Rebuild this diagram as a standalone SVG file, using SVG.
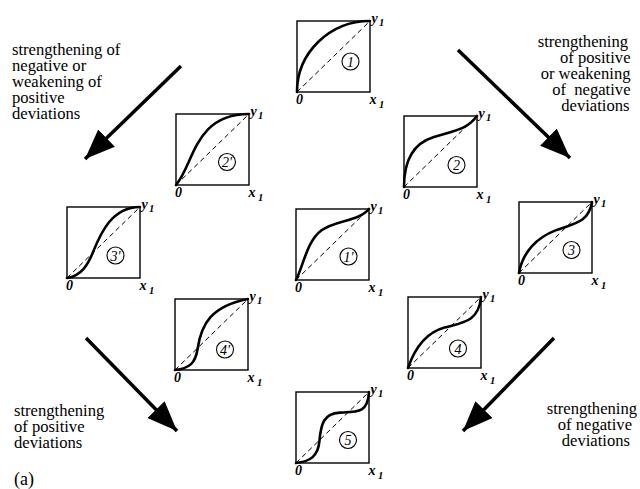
<svg xmlns="http://www.w3.org/2000/svg" width="640" height="489" viewBox="0 0 640 489">
<style>
.box{fill:none;stroke:#000;stroke-width:1.4}
.diag{fill:none;stroke:#000;stroke-width:1;stroke-dasharray:5,3.5}
.crv{fill:none;stroke:#000;stroke-width:2.6;stroke-linecap:round}
.cir{fill:none;stroke:#000;stroke-width:1.1}
.num{font-family:"Liberation Serif",serif;font-style:italic;font-size:14px;text-anchor:middle}
.lab{font-family:"Liberation Serif",serif;font-style:italic;font-weight:bold;font-size:14px}
.sub{font-size:10.5px}
.txt{font-family:"Liberation Serif",serif;font-size:16.6px}
.end{text-anchor:end}
.arr{stroke:#000;stroke-width:3.5;fill:none}
</style>
<defs>
<g id="frame">
<rect class="box" x="0" y="0" width="73" height="71"/>
<line class="diag" x1="0" y1="71" x2="73" y2="0"/>
<text class="lab" x="74.5" y="1.5">y<tspan class="sub" x="82" y="4.5">1</tspan></text>
<text class="lab" x="-1" y="83">0</text>
<text class="lab" x="72.5" y="83">x<tspan class="sub" x="82" y="86.5">1</tspan></text>
</g>
<marker id="ah" markerUnits="userSpaceOnUse" markerWidth="32" markerHeight="26" refX="30" refY="12" orient="auto" viewBox="0 0 32 24">
<path d="M0,0 L30,12 L0,24 Z" fill="#000"/>
</marker>
</defs>

<g id="connectors">
<line class="arr" x1="181" y1="66" x2="85" y2="159" marker-end="url(#ah)"/>
<line class="arr" x1="458" y1="50" x2="570" y2="158" marker-end="url(#ah)"/>
<line class="arr" x1="86" y1="338" x2="177" y2="431" marker-end="url(#ah)"/>
<line class="arr" x1="554" y1="338" x2="463" y2="431" marker-end="url(#ah)"/>
</g>

<g id="n1" transform="translate(297,21)">
<use href="#frame"/>
<path class="crv" d="M0,71 A73,71 0 0 1 73,0"/>
<circle class="cir" cx="53.5" cy="40.5" r="8.5"/><text class="num" x="53.5" y="45.5">1</text>
</g>
<g id="n2p" transform="translate(176,114)">
<use href="#frame"/>
<path class="crv" d="M0,71 C18.25,49.7 18.25,0 73,0"/>
<circle class="cir" cx="51" cy="48" r="8.5"/><text class="num" x="51" y="53">2'</text>
</g>
<g id="n2" transform="translate(404,116)">
<use href="#frame"/>
<path class="crv" d="M0,71 C0,42.6 10.95,27 29.2,21.3 C51.1,14.5 62.05,14.2 73,0"/>
<circle class="cir" cx="52.5" cy="49" r="8.5"/><text class="num" x="52.5" y="54">2</text>
</g>
<g id="n3p" transform="translate(67,207)">
<use href="#frame"/>
<path class="crv" d="M0,71 C14.6,68.9 21.2,56.8 25.55,46.15 C32.85,28.4 43.8,0 73,0"/>
<circle class="cir" cx="48.5" cy="48.5" r="8.5"/><text class="num" x="48.5" y="53.5">3'</text>
</g>
<g id="n1p" transform="translate(296,209)">
<use href="#frame"/>
<path class="crv" d="M0,71 C7.3,56.8 10.95,31.95 25.55,21.3 C40.15,10.65 62.05,12.8 73,0"/>
<circle class="cir" cx="52.5" cy="47.5" r="8.5"/><text class="num" x="52.5" y="52.5">1'</text>
</g>
<g id="n3" transform="translate(519,202)">
<use href="#frame"/>
<path class="crv" d="M0,71 C3.65,49.7 18.25,35.5 36.5,28.4 C54.75,21.3 69.35,21.3 73,0"/>
<circle class="cir" cx="52.5" cy="48" r="8.5"/><text class="num" x="52.5" y="53">3</text>
</g>
<g id="n4p" transform="translate(175,299)">
<use href="#frame"/>
<path class="crv" d="M0,71 C14.6,69.6 20.44,63.9 22.63,49.7 C26.28,24.85 36.5,7.1 73,0"/>
<circle class="cir" cx="50" cy="50.5" r="8.5"/><text class="num" x="50" y="55.5">4'</text>
</g>
<g id="n4" transform="translate(408,297)">
<use href="#frame"/>
<path class="crv" d="M0,71 C7.3,49.7 18.25,35.5 36.5,30.53 C54.75,25.56 70.81,24.85 73,0"/>
<circle class="cir" cx="50" cy="51.5" r="8.5"/><text class="num" x="50" y="56.5">4</text>
</g>
<g id="n5" transform="translate(296,392)">
<use href="#frame"/>
<path class="crv" d="M0,71 C14.6,69.58 21.9,63.9 23.36,49.7 C24.82,31.95 27.74,21.3 43.8,20.59 C62.05,19.88 71.54,21.3 73,0"/>
<circle class="cir" cx="52" cy="48" r="8.5"/><text class="num" x="52" y="53">5</text>
</g>

<g id="labels">
<text class="txt" x="12" y="55">strengthening of</text>
<text class="txt" x="12" y="71">negative or</text>
<text class="txt" x="12" y="87.3">weakening of</text>
<text class="txt" x="12" y="103.3">positive</text>
<text class="txt" x="12" y="119.3">deviations</text>
<text class="txt end" x="628" y="47.3">strengthening</text>
<text class="txt end" x="630.5" y="63.3">of positive</text>
<text class="txt end" x="630.5" y="79.3">or weakening</text>
<text class="txt end" x="630.5" y="95.3" xml:space="preserve">of  negative</text>
<text class="txt end" x="629.5" y="111.3">deviations</text>
<text class="txt" x="14" y="415.7">strengthening</text>
<text class="txt" x="14" y="431.7">of positive</text>
<text class="txt" x="14" y="447.5">deviations</text>
<text class="txt end" x="637" y="414">strengthening</text>
<text class="txt end" x="632" y="430">of negative</text>
<text class="txt end" x="630" y="446">deviations</text>
<text class="txt" x="14" y="484.5" style="font-size:18px">(a)</text>
</g>
</svg>
